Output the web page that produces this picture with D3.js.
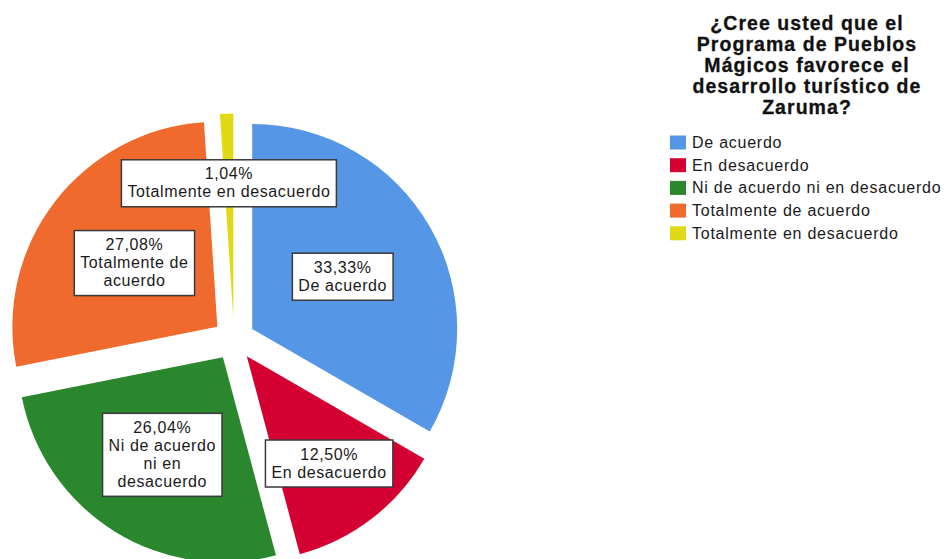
<!DOCTYPE html>
<html lang="es">
<head>
<meta charset="utf-8">
<style>
  body { margin: 0; background: #fff; }
  text { font-family: "Liberation Sans", Arial, sans-serif; fill: #1a1a1a; }
  .box rect { fill: #fff; stroke: #3a3a3a; stroke-width: 1.5px; }
  .box text { font-size: 16px; letter-spacing: 0.6px; }
  .legend text { font-size: 16px; letter-spacing: 0.75px; }
  .title text { font-size: 19.5px; font-weight: bold; letter-spacing: 1.05px; fill: #111; stroke: #111; stroke-width: 0.3px; }
</style>
</head>
<body>
<script src="https://cdn.jsdelivr.net/npm/d3@7"></script>
<script>

// Data
var categories = ["De acuerdo", "En desacuerdo", "Ni de acuerdo ni en desacuerdo",
                  "Totalmente de acuerdo", "Totalmente en desacuerdo"];
var percents = [33.33, 12.50, 26.04, 27.08, 1.04];
var percentLabels = ["33,33%", "12,50%", "26,04%", "27,08%", "1,04%"];
// category names as they wrap inside the label boxes
var labelLines = [
  ["De acuerdo"],
  ["En desacuerdo"],
  ["Ni de acuerdo", "ni en", "desacuerdo"],
  ["Totalmente de", "acuerdo"],
  ["Totalmente en desacuerdo"]
];
var colors = ["#5596e6", "#d50032", "#2a872d", "#f06a2d", "#e1d915"];
var titleLines = ["¿Cree usted que el", "Programa de Pueblos", "Mágicos favorece el",
                  "desarrollo turístico de", "Zaruma?"];

var width = 945, height = 559;
var cx = 234, cy = 339.5, radius = 205, explode = 21;

var svg = d3.select("body").append("svg")
    .attr("width", width)
    .attr("height", height);

var color = d3.scaleOrdinal().domain(categories).range(colors);

var pie = d3.pie().sort(null).value(function(d) { return d.value; });
var arc = d3.arc().innerRadius(0).outerRadius(radius);

var data = categories.map(function(c, i) {
  return { name: c, value: percents[i], pct: percentLabels[i], lines: labelLines[i] };
});
var arcs = pie(data);

function mid(d) { return (d.startAngle + d.endAngle) / 2; }
function shift(d, r) {
  var a = mid(d);
  return [Math.sin(a) * r, -Math.cos(a) * r];
}

var g = svg.append("g").attr("transform", "translate(" + cx + "," + cy + ")");

// exploded slices
g.selectAll("path.slice")
  .data(arcs)
  .enter().append("path")
    .attr("class", "slice")
    .attr("d", arc)
    .attr("fill", function(d) { return color(d.data.name); })
    .attr("transform", function(d) { return "translate(" + shift(d, explode) + ")"; });

// label boxes
var lineH = 18;
var box = g.selectAll("g.box")
  .data(arcs)
  .enter().append("g")
    .attr("class", "box")
    .attr("transform", function(d) {
      var share = d.data.value / 100;
      var k = share < 0.2 ? 0.66 : (share < 0.265 ? 0.56 : 0.51);
      var p = shift(d, explode + radius * k);
      return "translate(" + p + ")";
    });

box.each(function(d) {
  var b = d3.select(this);
  var lines = [d.data.pct].concat(d.data.lines);
  var h = lineH * lines.length + 11;
  var rect = b.append("rect");
  var t = b.append("text").attr("text-anchor", "middle");
  lines.forEach(function(l, i) {
    t.append("tspan")
      .attr("x", 0)
      .attr("y", -h / 2 + 19.5 + i * lineH)
      .text(l);
  });
  var w = t.node().getBBox().width + 12;
  rect.attr("x", -w / 2).attr("y", -h / 2).attr("width", w).attr("height", h);
});

// title
var title = svg.append("g").attr("class", "title");
title.selectAll("text")
  .data(titleLines)
  .enter().append("text")
    .attr("x", 807)
    .attr("y", function(d, i) { return 29.5 + i * 21; })
    .attr("text-anchor", "middle")
    .text(function(d) { return d; });

// legend
var legend = svg.append("g").attr("class", "legend")
  .selectAll("g")
  .data(categories)
  .enter().append("g")
    .attr("transform", function(d, i) { return "translate(670," + (135.5 + i * 22.7) + ")"; });

legend.append("rect")
  .attr("width", 16)
  .attr("height", 14)
  .attr("fill", function(d) { return color(d); });

legend.append("text")
  .attr("x", 22)
  .attr("y", 12.5)
  .text(function(d) { return d; });

</script>
</body>
</html>
